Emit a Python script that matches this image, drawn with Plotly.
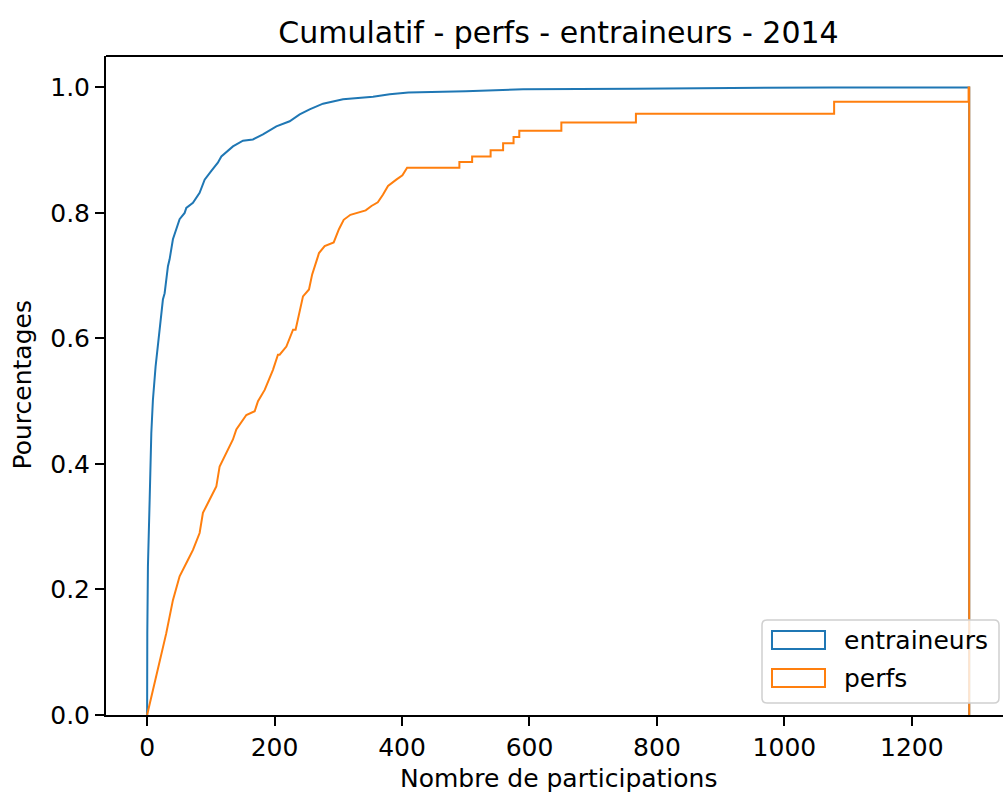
import plotly.graph_objects as go

# ---- data (cumulative share vs. number of participations)
entraineurs_x = [0, 0, 0.3, 1.3, 2.5, 4, 6.6, 9.1, 13.3, 18.5, 24.8, 27.5, 32.7, 35.3, 40.5, 51,
                 58.9, 61.5, 71.9, 82.4, 90.3, 100.8, 111, 116.5, 134.7, 150.4, 166, 181.8,
                 202.8, 223.7, 239.4, 255, 276, 307.4, 354.5, 380.7, 410, 500, 590, 765, 1075,
                 1290, 1290]
entraineurs_y = [0, 0.06, 0.13, 0.237, 0.30, 0.343, 0.449, 0.502, 0.555, 0.609, 0.662, 0.672,
                 0.715, 0.726, 0.758, 0.79, 0.800, 0.808, 0.816, 0.832, 0.853, 0.867, 0.880,
                 0.890, 0.906, 0.915, 0.917, 0.925, 0.938, 0.946, 0.957, 0.965, 0.974, 0.981,
                 0.985, 0.989, 0.992, 0.994, 0.997, 0.998, 1.0, 1.0, 0]

perfs_x = [0, 9, 19.6, 30, 40.5, 51, 64, 72, 82.4, 87.6, 98, 108.6, 113.8, 124.3, 134.7, 140,
           155.7, 168.8, 174, 184.5, 197.5, 205.3, 208, 218.5, 229, 233, 239.4, 244.6, 254,
           259, 266.6, 269.7, 278.6, 292.8, 301, 308.5, 319, 343, 352, 362, 370, 378, 391,
           400.6, 408,
           490, 490, 510, 510, 539, 539, 558.6, 558.6, 575, 575, 584, 584, 650, 650, 767, 767,
           1078, 1078, 1289, 1289, 1290, 1290]
perfs_y = [0, 0.04, 0.088, 0.130, 0.183, 0.221, 0.247, 0.263, 0.290, 0.322, 0.343, 0.364,
           0.396, 0.417, 0.439, 0.455, 0.478, 0.484, 0.500, 0.518, 0.550, 0.574, 0.574,
           0.587, 0.614, 0.614, 0.645, 0.667, 0.678, 0.702, 0.726, 0.736, 0.747, 0.753,
           0.774, 0.789, 0.797, 0.804, 0.811, 0.817, 0.829, 0.843, 0.853, 0.860, 0.872,
           0.872, 0.881, 0.881, 0.890, 0.890, 0.900, 0.900, 0.911, 0.911, 0.921, 0.921, 0.931,
           0.931, 0.944, 0.944, 0.958, 0.958, 0.977, 0.977, 1.0, 1.0, 0]

x_ticks = [0, 200, 400, 600, 800, 1000, 1200]
y_ticks = [0.0, 0.2, 0.4, 0.6, 0.8, 1.0]
series_names = ["entraineurs", "perfs"]
series_colors = ["#1f77b4", "#ff7f0e"]

title_text = "Cumulatif - perfs - entraineurs - 2014"
x_title = "Nombre de participations"
y_title = "Pourcentages"

# ---- layout geometry (pixels)
W, H = 1003, 796
ML, MR, MT, MB = 106, 0, 56, 81
PW, PH = W - ML - MR, H - MT - MB
FONT = "DejaVu Sans"


def px_x(px):
    return (px - ML) / PW


def px_y(py):
    return (H - MB - py) / PH


fig = go.Figure()
for name, xs, ys, col in [(series_names[0], entraineurs_x, entraineurs_y, series_colors[0]),
                          (series_names[1], perfs_x, perfs_y, series_colors[1])]:
    fig.add_trace(go.Scatter(x=xs, y=ys, mode="lines", name=name,
                             line=dict(color=col, width=2), showlegend=False,
                             hoverinfo="skip"))

axis_common = dict(showgrid=False, zeroline=False, showline=True, linecolor="black",
                   linewidth=2, ticks="outside", ticklen=9, tickwidth=2, tickcolor="black",
                   tickfont=dict(family=FONT, size=25, color="black"), mirror=False)

fig.update_xaxes(range=[-64.5, 1343], tickvals=x_ticks,
                 ticktext=[str(v) for v in x_ticks], **axis_common)
fig.update_yaxes(range=[0, 1.05], tickvals=y_ticks,
                 ticktext=["%.1f" % v for v in y_ticks], **axis_common)

shapes = [
    # top spine (right spine is outside the picture)
    dict(type="line", xref="paper", yref="paper", x0=0, x1=1, y0=1, y1=1,
         line=dict(color="black", width=2)),
]

# legend box with rounded corners
lx0, lx1, ly0, ly1 = px_x(762), px_x(999), px_y(703), px_y(620)
rx, ry = 5 / PW, 5 / PH
path = (f"M{lx0+rx},{ly0} L{lx1-rx},{ly0} Q{lx1},{ly0} {lx1},{ly0+ry} "
        f"L{lx1},{ly1-ry} Q{lx1},{ly1} {lx1-rx},{ly1} L{lx0+rx},{ly1} "
        f"Q{lx0},{ly1} {lx0},{ly1-ry} L{lx0},{ly0+ry} Q{lx0},{ly0} {lx0+rx},{ly0} Z")
shapes.append(dict(type="path", xref="paper", yref="paper", path=path,
                   fillcolor="rgba(255,255,255,0.8)", line=dict(color="#d0d0d0", width=1.5),
                   layer="above"))
handle_rows = [(631, 649), (669, 687)]
annotations = []
for (top, bot), name, col, cy in zip(handle_rows, series_names, series_colors, [640, 678]):
    shapes.append(dict(type="rect", xref="paper", yref="paper",
                       x0=px_x(772), x1=px_x(825), y0=px_y(bot), y1=px_y(top),
                       line=dict(color=col, width=2), fillcolor="rgba(0,0,0,0)",
                       layer="above"))
    annotations.append(dict(text=name, xref="paper", yref="paper", x=px_x(842), y=px_y(cy),
                            xanchor="left", yanchor="middle", showarrow=False,
                            font=dict(family=FONT, size=25, color="black")))

# axis titles
annotations.append(dict(text=x_title, xref="paper", yref="paper", x=px_x(558), y=px_y(779),
                        xanchor="center", yanchor="middle", showarrow=False,
                        font=dict(family=FONT, size=25, color="black")))
annotations.append(dict(text=y_title, xref="paper", yref="paper", x=px_x(22), y=0.5,
                        xanchor="center", yanchor="middle", showarrow=False, textangle=-90,
                        font=dict(family=FONT, size=25, color="black")))

fig.update_layout(
    width=W, height=H,
    margin=dict(l=ML, r=MR, t=MT, b=MB, pad=0),
    paper_bgcolor="white", plot_bgcolor="white",
    title=dict(text=title_text, xref="paper", x=px_x(558.5), xanchor="center",
               yref="container", y=1 - 32.5 / H, yanchor="middle",
               font=dict(family=FONT, size=30, color="black")),
    shapes=shapes, annotations=annotations, showlegend=False, hovermode=False,
)

fig.write_html("out.html", config={"displayModeBar": False},
               post_script="document.body.style.margin='0px';"
                           "document.body.style.overflow='hidden';")
